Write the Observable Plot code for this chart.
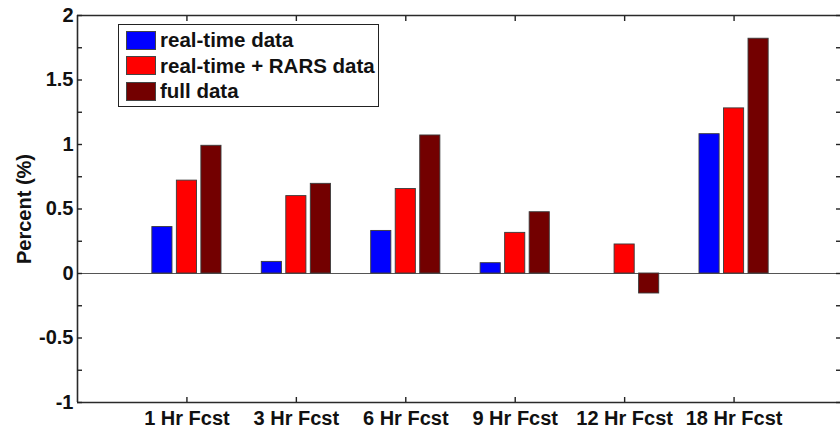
<!DOCTYPE html>
<html>
<head>
<meta charset="utf-8">
<script src="https://cdn.jsdelivr.net/npm/d3@7"></script>
<script src="https://cdn.jsdelivr.net/npm/@observablehq/plot@0.6"></script>
<style>
  html, body { margin: 0; padding: 0; background: #fff; overflow: hidden; }
  #wrap { position: relative; width: 840px; height: 428px; font-family: "Liberation Sans", Arial, sans-serif; }
  #legend { position: absolute; left: 118px; top: 24px; width: 259px; height: 81px; border: 1.5px solid #222; background: #fff; box-sizing: content-box; }
  .row { position: absolute; left: 7px; height: 20px; display: flex; align-items: center; }
  .sw { width: 30px; height: 19px; box-sizing: border-box; border: 1px solid #444; margin-right: 4px; }
  .lbl { font-weight: bold; font-size: 20.5px; color: #111; white-space: nowrap; }
</style>
</head>
<body>
<div id="wrap"></div>
<script>
const categories = ["1 Hr Fcst", "3 Hr Fcst", "6 Hr Fcst", "9 Hr Fcst", "12 Hr Fcst", "18 Hr Fcst"];
const seriesNames = ["real-time data", "real-time + RARS data", "full data"];
const seriesColors = ["#0000ff", "#ff0000", "#730000"];
const realTime = [0.36, 0.09, 0.33, 0.08, 0.0, 1.08];
const realTimeRars = [0.72, 0.60, 0.655, 0.315, 0.225, 1.28];
const fullData = [0.99, 0.695, 1.07, 0.475, -0.155, 1.82];
const yMajorTicks = [-1, -0.5, 0, 0.5, 1, 1.5, 2];
const yMinorTicks = [-1, -0.75, -0.5, -0.25, 0, 0.25, 0.5, 0.75, 1, 1.25, 1.5, 1.75, 2];
const yLabel = "Percent (%)";

const allSeries = [realTime, realTimeRars, fullData];
const rows = [];
categories.forEach((c, i) => {
  allSeries.forEach((vals, s) => {
    rows.push({cat: c, idx: i + 1, s, series: seriesNames[s], value: vals[i]});
  });
});
const step = 0.224, half = 0.092;
const catIdx = categories.map((c, i) => i + 1);

const fontSize = 20;
const chart = Plot.plot({
  width: 840,
  height: 428,
  marginLeft: 77,
  marginTop: 15,
  marginBottom: 26,
  marginRight: 0,
  style: {fontFamily: "'Liberation Sans', Arial, sans-serif", fontSize: fontSize + "px", fontWeight: "bold", color: "#111", background: "#fff"},
  x: {type: "linear", domain: [0, 7], range: [77, 843]},
  y: {domain: [-1, 2], range: [402, 15]},
  color: {domain: seriesNames, range: seriesColors},
  marks: [
    Plot.ruleY([0], {stroke: "#555", strokeWidth: 1.2}),
    Plot.rectY(rows, {
      x1: d => d.idx + (d.s - 1) * step - half,
      x2: d => d.idx + (d.s - 1) * step + half,
      y: "value",
      fill: "series",
      stroke: "#3a3a3a",
      strokeWidth: 0.9
    }),
    // frame (left, top, bottom; right edge lies beyond the picture)
    Plot.ruleX([0], {stroke: "#2a2a2a", strokeWidth: 1.6}),
    Plot.ruleY([2, -1], {stroke: "#2a2a2a", strokeWidth: 1.6}),
    // y axis labels
    Plot.axisY({anchor: "left", ticks: yMajorTicks, tickSize: 0, tickPadding: 4, tickFormat: d => String(d), fontSize: fontSize, fontWeight: "bold", label: null}),
    // inner ticks
    Plot.axisY({anchor: "left", ticks: yMinorTicks, tickSize: -5, text: null, label: null, stroke: "#222", strokeWidth: 1.4}),
    Plot.axisY({anchor: "right", ticks: yMinorTicks, tickSize: -5, text: null, label: null, stroke: "#222", strokeWidth: 1.4}),
    Plot.axisX({anchor: "bottom", ticks: catIdx, tickSize: -5, text: null, label: null, stroke: "#222", strokeWidth: 1.4}),
    Plot.axisX({anchor: "top", ticks: catIdx, tickSize: -5, text: null, label: null, stroke: "#222", strokeWidth: 1.4}),
    Plot.axisX({anchor: "bottom", ticks: catIdx, tickSize: 0, tickPadding: 8, tickFormat: d => categories[d - 1], fontSize: fontSize, fontWeight: "bold", label: null}),
    Plot.text([yLabel], {x: 0, y: 0.5, dx: -53, rotate: -90, text: d => d, textAnchor: "middle", fontSize: fontSize, fontWeight: "bold", fill: "#111"})
  ]
});
const wrap = document.getElementById("wrap");
wrap.appendChild(chart);

const legend = document.createElement("div");
legend.id = "legend";
seriesNames.forEach((name, i) => {
  const row = document.createElement("div");
  row.className = "row";
  row.style.top = (5 + i * 25.5) + "px";
  const sw = document.createElement("div");
  sw.className = "sw";
  sw.style.background = seriesColors[i];
  const lbl = document.createElement("span");
  lbl.className = "lbl";
  lbl.textContent = name;
  row.appendChild(sw);
  row.appendChild(lbl);
  legend.appendChild(row);
});
wrap.appendChild(legend);
</script>
</body>
</html>
